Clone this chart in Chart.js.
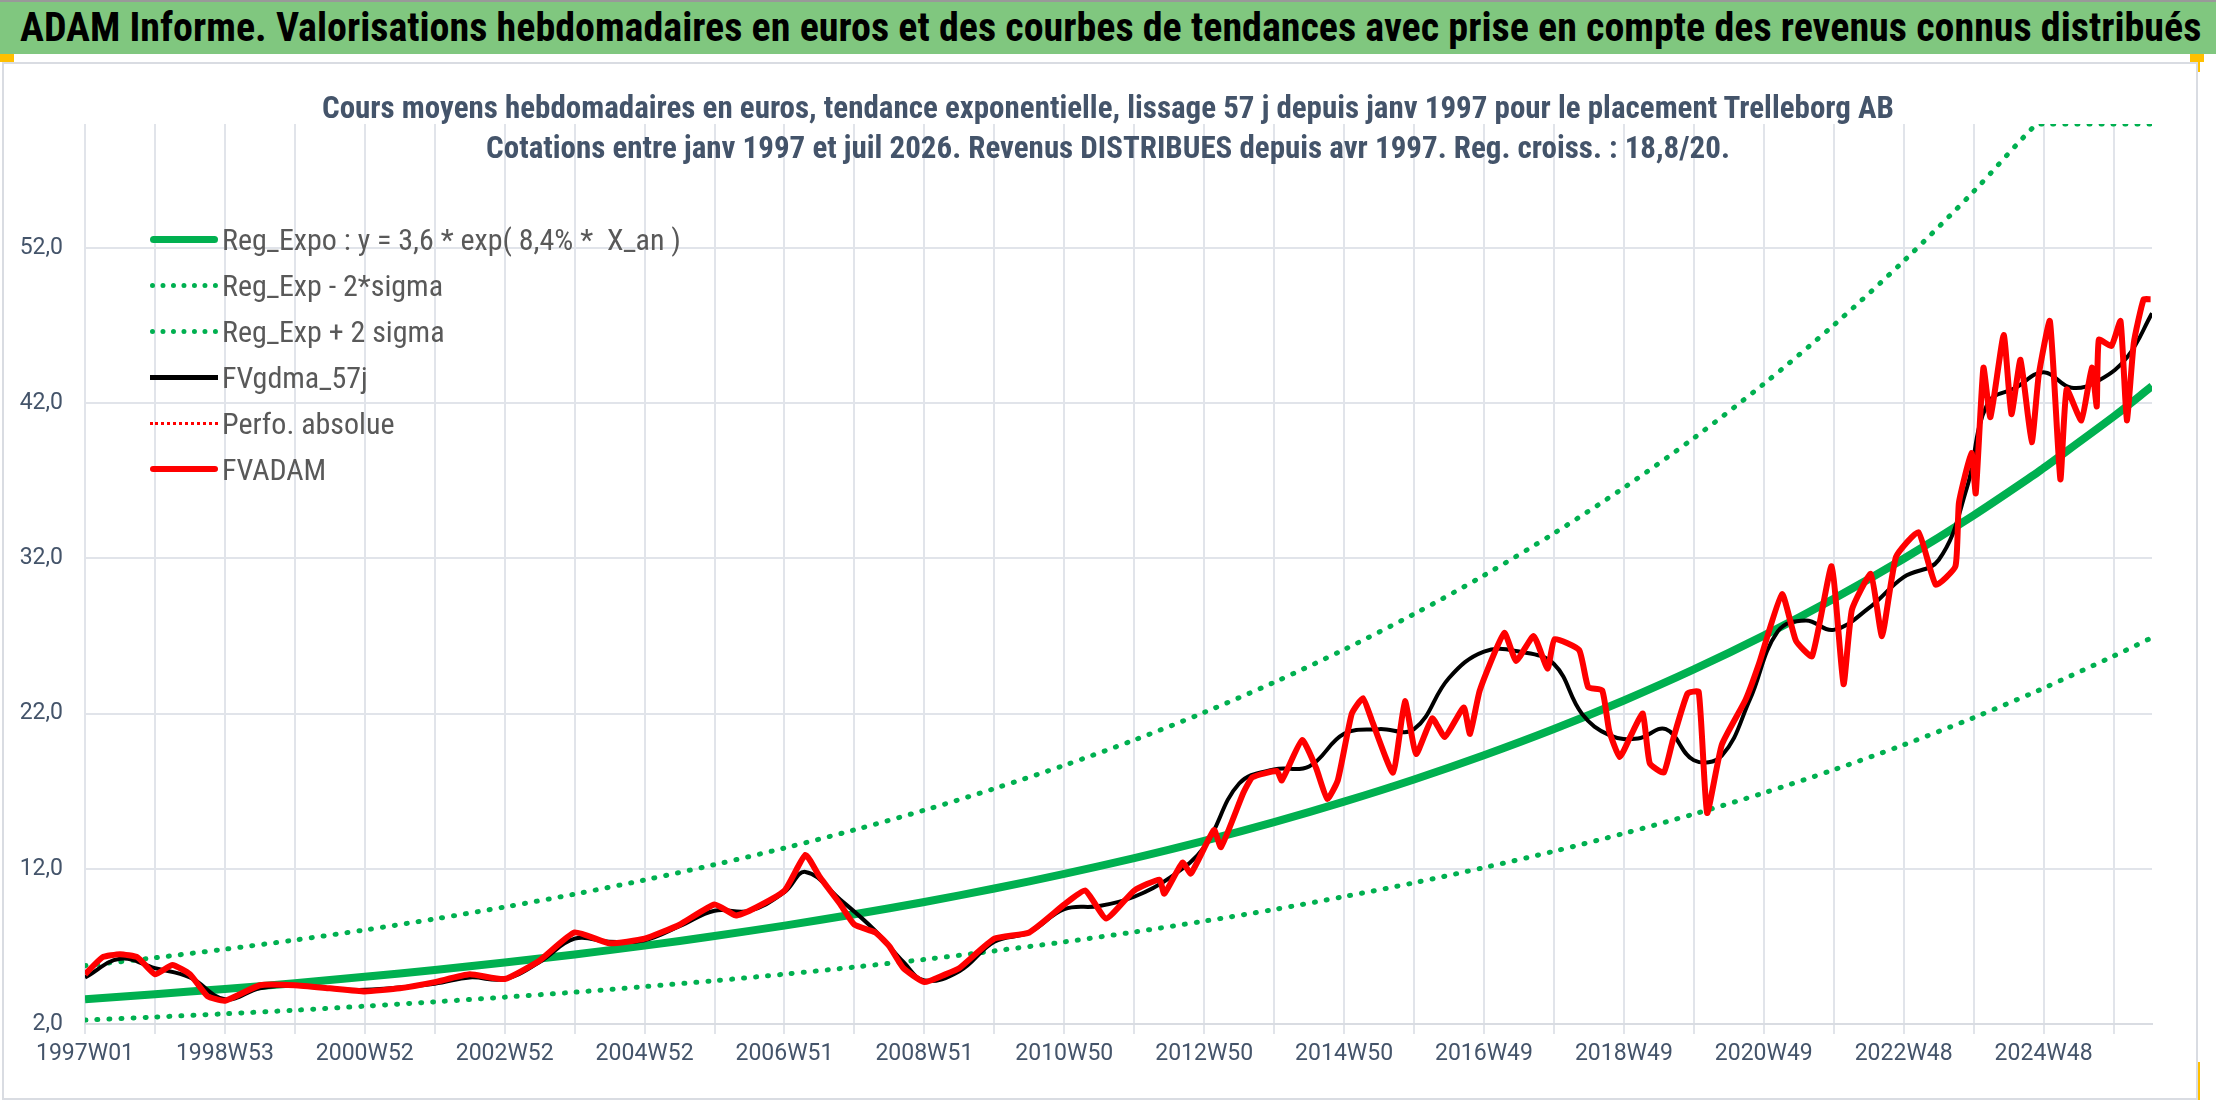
<!DOCTYPE html>
<html>
<head>
<meta charset="utf-8">
<script src="https://cdn.jsdelivr.net/npm/chart.js@4.4.1/dist/chart.umd.min.js"></script>
<style>
  body { margin: 0; width: 2216px; height: 1106px; background: #fff; position: relative; overflow: hidden; font-family: "Liberation Sans Narrow", "Roboto Condensed", Roboto, sans-serif; }
  #header { position: absolute; left: 0; top: 0; width: 2216px; height: 54px; background: #80c77f; border-top: 2px solid #999; box-sizing: border-box; }
  #header span { position: absolute; left: 20px; top: 2px; font-size: 40px; font-weight: bold; color: #000; white-space: nowrap; }
  #frame { position: absolute; left: 2px; top: 62px; width: 2196px; height: 1038px; border: 2px solid #d9dce2; box-sizing: border-box; }
  .corner { position: absolute; background: #ffc000; }
  #sub { position: absolute; left: 0; width: 2216px; top: 88px; text-align: center; color: #44546a; font-weight: bold; font-size: 31px; line-height: 40px; }
  #chartWrap { position: absolute; left: 0; top: 0; width: 2216px; height: 1106px; }
  #legend { position: absolute; left: 150px; top: 216px; font-size: 30px; color: #595959; }
  #legend div { height: 46px; display: flex; align-items: center; }
  #legend i { display: inline-block; width: 68px; margin-right: 4px; }
</style>
</head>
<body>
<div id="header"><span>ADAM Informe. Valorisations hebdomadaires en euros et des courbes de tendances avec prise en compte des revenus connus distribués</span></div>
<div class="corner" style="left:0;top:54px;width:14px;height:8px"></div>
<div class="corner" style="left:2190px;top:54px;width:14px;height:8px"></div>
<div class="corner" style="left:2196px;top:58px;width:4px;height:14px"></div>
<div class="corner" style="left:2196px;top:1062px;width:4px;height:38px"></div>
<div id="frame"></div>
<div id="chartWrap"><canvas id="c" width="2216" height="1106"></canvas></div>
<div id="sub">Cours moyens hebdomadaires en euros, tendance exponentielle, lissage 57 j depuis janv 1997 pour le placement Trelleborg AB<br>Cotations entre janv 1997 et juil 2026. Revenus DISTRIBUES depuis avr 1997. Reg. croiss. : 18,8/20.</div>
<div id="legend">
  <div><i style="border-top:7px solid #00b050;border-radius:4px"></i>Reg_Expo : y = 3,6 * exp( 8,4% *&nbsp; X_an )</div>
  <div><i style="border-top:5px dotted #00b050"></i>Reg_Exp - 2*sigma</div>
  <div><i style="border-top:5px dotted #00b050"></i>Reg_Exp + 2 sigma</div>
  <div><i style="border-top:5px solid #000"></i>FVgdma_57j</div>
  <div><i style="border-top:3px dotted #ff0000"></i>Perfo. absolue</div>
  <div><i style="border-top:6px solid #ff0000;border-radius:3px"></i>FVADAM</div>
</div>
<script>
// x in years since 1997W01
const xLabels = ["1997W01", "1998W53", "2000W52", "2002W52", "2004W52", "2006W51", "2008W51", "2010W50",
  "2012W50", "2014W50", "2016W49", "2018W49", "2020W49", "2022W48", "2024W48"];
const yTicks = [2, 12, 22, 32, 42, 52];

const trendX = [0, 1, 2, 3, 4, 5, 6, 7, 8, 9, 10, 11, 12, 13, 14, 15, 16, 17, 18, 19, 20, 21, 22, 23, 24, 25, 26, 27, 27.9, 28, 29, 29.55];
const regExpo = [3.60, 3.92, 4.26, 4.63, 5.04, 5.48, 5.96, 6.48, 7.05, 7.67, 8.34, 9.07, 9.86, 10.73, 11.67, 12.69,
  13.80, 15.01, 16.33, 17.76, 19.32, 21.01, 22.85, 24.85, 27.03, 29.40, 31.98, 34.78, 37.50, 37.83, 41.14, 43.10];
const regUpper = [5.76, 6.27, 6.82, 7.41, 8.06, 8.77, 9.54, 10.37, 11.28, 12.27, 13.34, 14.51, 15.78, 17.17, 18.67, 20.30,
  22.08, 24.02, 26.13, 28.42, 30.91, 33.62, 36.56, 39.76, 43.25, 47.04, 51.17, 55.65, 60, 60, 60, 60];
const regLower = [2.25, 2.45, 2.66, 2.89, 3.15, 3.43, 3.73, 4.05, 4.41, 4.79, 5.21, 5.67, 6.16, 6.71, 7.29, 7.93,
  8.63, 9.38, 10.21, 11.10, 12.08, 13.13, 14.28, 15.53, 16.89, 18.38, 19.99, 21.74, 23.44, 23.64, 25.71, 26.90];

const fvX = [0, 0.25, 0.5, 0.75, 1.0, 1.25, 1.5, 1.75, 2.0, 2.5, 3.0, 3.5, 4.0, 4.5, 5.0, 5.5, 6.0, 6.5, 7.0, 7.5, 8.0, 8.5,
  9.0, 9.3, 9.5, 10.0, 10.3, 10.5, 10.8, 11.0, 11.3, 11.5, 11.7, 12.0, 12.3, 12.5, 13.0, 13.5, 14.0, 14.3, 14.6, 15.0,
  15.36, 15.43, 15.69, 15.81, 16.14, 16.24, 16.56, 16.69, 17.04, 17.11, 17.4, 17.6, 17.76, 17.91, 18.11, 18.27, 18.41,
  18.7, 18.87, 19.03, 19.26, 19.44, 19.71, 19.8, 19.94, 20.29, 20.46, 20.71, 20.91, 21.01, 21.36, 21.49, 21.69, 21.79,
  21.94, 22.09, 22.27, 22.37, 22.57, 22.7, 22.91, 23.07, 23.19, 23.4, 23.74, 23.93, 24.26, 24.46, 24.69, 24.97, 25.14,
  25.26, 25.53, 25.69, 25.89, 26.21, 26.46, 26.74, 26.79, 26.97, 27.03, 27.14, 27.24, 27.43, 27.54, 27.67, 27.83,
  27.93, 28.09, 28.24, 28.33, 28.54, 28.69, 28.76, 28.79, 28.97, 29.1, 29.19, 29.29, 29.43, 29.53];
const fvadam = [5.2, 6.3, 6.5, 6.3, 5.2, 5.8, 5.2, 3.8, 3.5, 4.5, 4.5, 4.3, 4.1, 4.3, 4.7, 5.2, 4.9, 6.1, 7.9, 7.2, 7.5, 8.4,
  9.7, 9.0, 9.3, 10.6, 12.9, 11.5, 9.7, 8.4, 7.9, 7.0, 5.6, 4.7, 5.2, 5.6, 7.5, 7.9, 9.7, 10.6, 8.8, 10.6,
  11.3, 10.4, 12.4, 11.7, 14.5, 13.4, 16.9, 17.9, 18.3, 17.7, 20.3, 18.5, 16.5, 17.7, 22.0, 23.0, 21.4,
  18.2, 22.8, 19.4, 21.7, 20.5, 22.4, 20.7, 23.5, 27.2, 25.4, 27.0, 24.9, 26.8, 26.1, 23.7, 23.5, 20.9,
  19.2, 20.5, 22.0, 18.8, 18.2, 20.3, 23.3, 23.4, 15.6, 20.0, 22.9, 25.2, 29.7, 26.7, 25.7, 31.5, 23.9,
  28.7, 31.0, 27.0, 32.1, 33.7, 30.3, 31.5, 35.6, 38.8, 36.2, 44.3, 41.1, 46.4, 41.3, 44.8, 39.5,
  43.8, 47.3, 37.1, 42.9, 40.9, 44.3, 41.8, 46.1, 45.7, 47.3, 40.9, 45.9, 48.7, 48.7];

const gdmaX = [0, 0.5, 1, 1.5, 2, 2.5, 3, 3.5, 4, 5, 5.5, 6, 6.5, 7, 7.5, 8, 8.5, 9, 9.5, 10, 10.3, 10.8, 11.3, 11.7, 12,
  12.5, 13, 13.5, 14, 14.5, 15, 15.5, 16, 16.5, 17, 17.5, 18, 18.5, 19, 19.5, 20, 20.5, 21, 21.4, 21.8, 22.2, 22.6,
  23, 23.4, 23.8, 24.2, 24.6, 25, 25.5, 26, 26.5, 26.9, 27.2, 27.6, 28, 28.4, 28.8, 29.2, 29.55];
const gdma = [5.0, 6.2, 5.6, 5.0, 3.6, 4.3, 4.5, 4.3, 4.2, 4.6, 5.0, 4.9, 6.0, 7.5, 7.3, 7.4, 8.3, 9.3, 9.3, 10.5, 11.8, 10.0,
  8.0, 6.0, 4.8, 5.4, 7.3, 7.9, 9.4, 9.6, 10.2, 11.4, 13.4, 17.5, 18.4, 18.6, 20.7, 21.0, 21.0, 24.3, 26.0, 26.0, 25.2,
  22.0, 20.6, 20.4, 21.0, 19.0, 19.3, 22.9, 27.3, 28.0, 27.4, 28.8, 30.8, 31.9, 36.5, 42.0, 43.0, 44.0, 43.0, 43.5,
  45.0, 47.8];

const pts = (xs, ys) => xs.map((x, i) => ({ x: x, y: ys[i] }));
const labelFont = { family: "'Liberation Sans Narrow', Roboto, sans-serif", size: 23 };

new Chart(document.getElementById("c"), {
  type: "line",
  data: {
    datasets: [
      { label: "FVADAM", data: pts(fvX, fvadam), borderColor: "#ff0000", borderWidth: 6, tension: 0.15 },
      { label: "FVgdma_57j", data: pts(gdmaX, gdma), borderColor: "#000000", borderWidth: 4, tension: 0.4 },
      { label: "Reg_Exp + 2 sigma", data: pts(trendX, regUpper), borderColor: "#00b050", borderWidth: 5, borderDash: [1, 11], borderCapStyle: "round", tension: 0.3 },
      { label: "Reg_Exp - 2*sigma", data: pts(trendX, regLower), borderColor: "#00b050", borderWidth: 5, borderDash: [1, 11], borderCapStyle: "round", tension: 0.3 },
      { label: "Reg_Expo", data: pts(trendX, regExpo), borderColor: "#00b050", borderWidth: 8, tension: 0.3 },
    ],
  },
  options: {
    responsive: false,
    animation: false,
    elements: { point: { radius: 0 } },
    layout: { padding: { top: 124, right: 64, bottom: 0, left: 0 } },
    plugins: { legend: { display: false }, tooltip: { enabled: false } },
    scales: {
      x: {
        type: "linear",
        min: 0,
        max: 29.55,
        afterFit: (s) => { s.height = 82; },
        afterBuildTicks: (s) => { s.ticks = xLabels.flatMap((l, i) => [{ value: 2 * i }, { value: 2 * i + 1 }]).filter((t) => t.value <= 29.55); },
        ticks: {
          autoSkip: false,
          maxRotation: 0,
          color: "#44546a",
          font: labelFont,
          padding: 6,
          callback: (v) => (v % 2 === 0 ? xLabels[v / 2] : ""),
        },
        grid: { color: "#e1e4ea", lineWidth: 2, tickLength: 10 },
        border: { color: "#d9dce2", width: 2 },
      },
      y: {
        min: 2,
        max: 60,
        afterFit: (s) => { s.width = 85; },
        afterBuildTicks: (s) => { s.ticks = yTicks.map((v) => ({ value: v })); },
        ticks: { color: "#44546a", font: labelFont, padding: 22, callback: (v) => v.toFixed(1).replace(".", ",") },
        grid: { color: "#e1e4ea", lineWidth: 2, drawTicks: false },
        border: { display: false },
      },
    },
  },
});
</script>
</body>
</html>
